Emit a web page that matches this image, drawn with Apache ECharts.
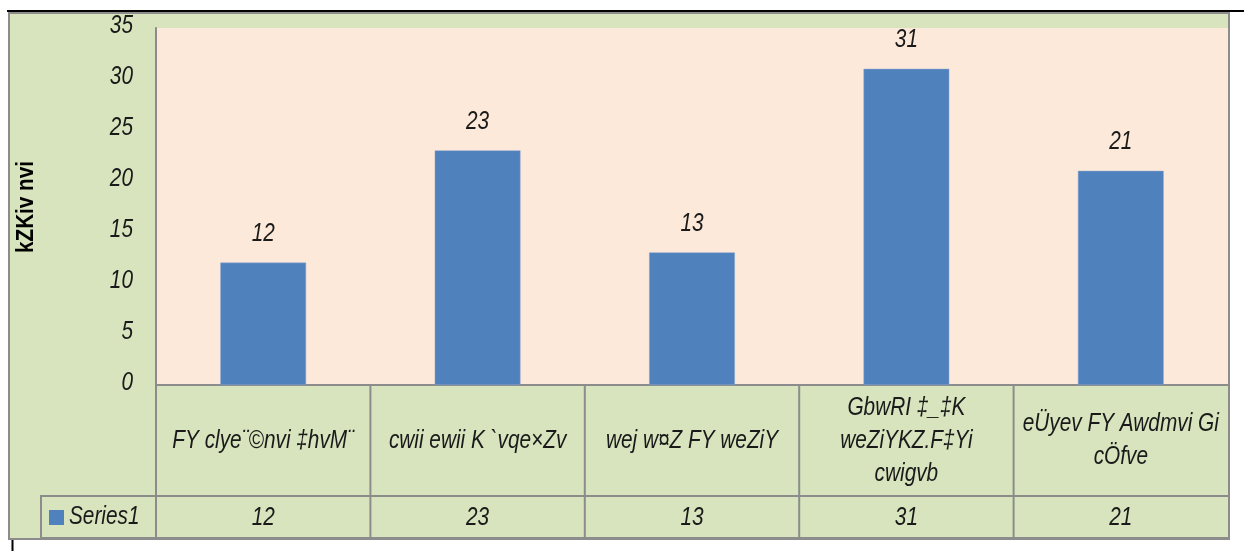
<!DOCTYPE html>
<html><head><meta charset="utf-8">
<script src="https://cdn.jsdelivr.net/npm/echarts@6/dist/echarts.min.js"></script>
<style>html,body{margin:0;padding:0;background:#fff}#c{width:1244px;height:551px}</style>
</head><body><div id="c"></div>
<script>
var categories = ['FY clye¨©nvi ‡hvM¨', 'cwii ewii K `vqe×Zv', 'wej w¤Z FY weZiY', 'GbwRI ‡_‡K\nweZiYKZ.F‡Yi\ncwigvb', 'eÜyev FY Awdmvi Gi\ncÖfve'];
var values = [12, 23, 13, 31, 21];
var yTicks = [0, 5, 10, 15, 20, 25, 30, 35];
var seriesName = 'Series1';
var yTitle = 'kZKiv nvi';

var FONT = '"Liberation Sans",Arial,sans-serif';
var SX = 0.8;
var GREEN = '#D7E4BD', PEACH = '#FDE9D9', GRAY = '#8c8c8c', BLUE = '#4F81BD', INK = '#1a1a1a';

var chart = echarts.init(document.getElementById('c'));
var gridL = 156, gridR = 16, gridT = 28, gridB = 166;
chart.setOption({
  backgroundColor: GREEN,
  animation: false,
  grid: {left: gridL, right: gridR, top: gridT, bottom: gridB, show: true, backgroundColor: PEACH, borderWidth: 0},
  xAxis: {type: 'category', data: categories, axisLabel: {show: false}, axisTick: {show: false},
    axisLine: {lineStyle: {color: GRAY, width: 2}}},
  yAxis: {type: 'value', min: yTicks[0], max: yTicks[yTicks.length - 1], interval: yTicks[1] - yTicks[0],
    splitLine: {show: false}, axisTick: {show: false}, axisLabel: {show: false},
    axisLine: {show: true, lineStyle: {color: GRAY, width: 2}}},
  series: [{type: 'bar', name: seriesName, data: values, barWidth: '40%',
    itemStyle: {color: BLUE, borderColor: '#8fa9d0', borderWidth: 0.5},
    label: {show: false}}]
});

function txt(x, y, s, opts) {
  opts = opts || {};
  return {type: 'text', x: x, y: y, scaleX: opts.sx || SX, rotation: opts.rot || 0, z: 60,
    style: {text: s, fontFamily: FONT, fontStyle: opts.weight ? 'normal' : 'italic', fontWeight: opts.weight || 'normal',
      fontSize: opts.size || 26, lineHeight: opts.lh || 33, fill: opts.fill || INK,
      align: opts.align || 'center', verticalAlign: 'middle'}};
}

var W = 1244, H = 551;
var plotW = W - gridL - gridR, n = categories.length, band = plotW / n;
var rowTop = H - gridB, rowMid = 496, rowBot = 538, legL = 40, right = 1229;
var els = [];
// white margins
els.push({type:'rect', shape:{x:0,y:0,width:W,height:11}, style:{fill:'#fff'}, z:100});
els.push({type:'rect', shape:{x:1230,y:0,width:14,height:H}, style:{fill:'#fff'}, z:100});
els.push({type:'rect', shape:{x:0,y:540,width:W,height:11}, style:{fill:'#fff'}, z:100});
els.push({type:'rect', shape:{x:0,y:0,width:8,height:H}, style:{fill:'#fff'}, z:100});
// border
els.push({type:'rect', shape:{x:9,y:13,width:1220,height:526}, style:{fill:null, stroke:GRAY, lineWidth:2}, z:101});
els.push({type:'line', shape:{x1:7,y1:11,x2:W,y2:11}, style:{stroke:'#000', lineWidth:2}, z:102});
els.push({type:'line', shape:{x1:12.5,y1:540,x2:12.5,y2:H}, style:{stroke:'#000', lineWidth:2}, z:102});
// table lines
els.push({type:'line', shape:{x1:legL,y1:rowMid,x2:right,y2:rowMid}, style:{stroke:GRAY, lineWidth:2}, z:50});
els.push({type:'line', shape:{x1:legL,y1:rowBot,x2:right,y2:rowBot}, style:{stroke:GRAY, lineWidth:2}, z:50});
els.push({type:'line', shape:{x1:legL+1,y1:rowMid,x2:legL+1,y2:rowBot}, style:{stroke:GRAY, lineWidth:2}, z:50});
for (var i = 0; i < n; i++) {
  var cx = chart.convertToPixel({xAxisIndex: 0}, i);
  var x0 = cx - band / 2;
  els.push({type:'line', shape:{x1:x0,y1:rowTop,x2:x0,y2:rowBot}, style:{stroke:GRAY, lineWidth:2}, z:50});
  els.push(txt(cx, (rowTop + rowMid) / 2, categories[i]));
  els.push(txt(cx, (rowMid + rowBot) / 2 + 1, String(values[i])));
  // data label above bar
  var topY = chart.convertToPixel({yAxisIndex: 0}, values[i]);
  els.push(txt(cx, topY - 29, String(values[i])));
}
// y tick labels
for (var k = 0; k < yTicks.length; k++) {
  var py = chart.convertToPixel({yAxisIndex: 0}, yTicks[k]);
  els.push(txt(133, py - 2, String(yTicks[k]), {align: 'right'}));
}
// legend key
els.push({type:'rect', shape:{x:49,y:510,width:15,height:15}, style:{fill:BLUE}, z:60});
els.push(txt(69, 517, seriesName, {align: 'left'}));
// y title
els.push(txt(27, 207, yTitle, {rot: Math.PI/2, weight: 'bold', size: 23, sx: 0.9, fill: '#000'}));
chart.setOption({graphic: {elements: els}});
</script></body></html>
